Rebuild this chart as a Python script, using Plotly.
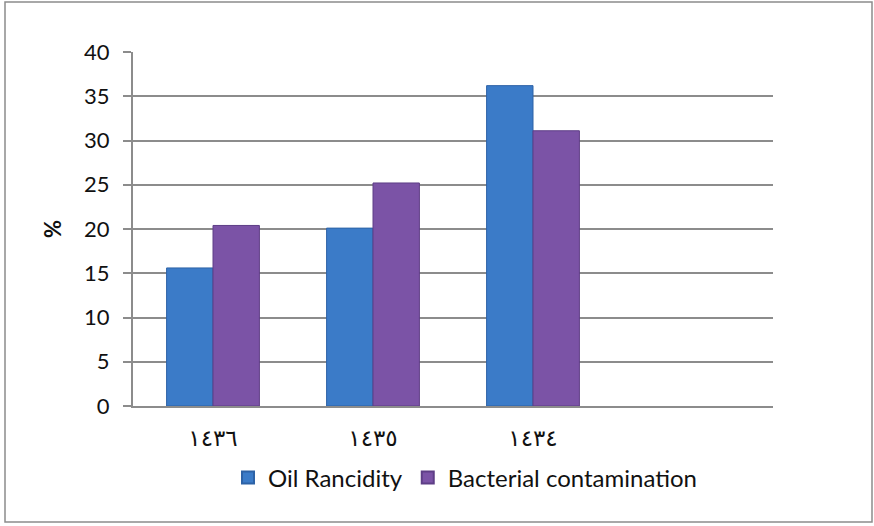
import plotly.graph_objects as go

# Hijri years on the category axis
years = ["١٤٣٦", "١٤٣٥", "١٤٣٤"]
oil_rancidity = [15.6, 20.1, 36.2]
bacterial_contamination = [20.4, 25.2, 31.1]
y_ticks = [0, 5, 10, 15, 20, 25, 30, 35, 40]

W, H = 874, 526
L, R, T, B = 133, 101, 52, 120
pw, ph = W - L - R, H - T - B

fig = go.Figure()
fig.add_trace(go.Bar(
    x=years, y=oil_rancidity, name="Oil Rancidity",
    marker=dict(color="#3b7bc8", line=dict(color="#2d62a6", width=1)),
))
fig.add_trace(go.Bar(
    x=years, y=bacterial_contamination, name="Bacterial contamination",
    marker=dict(color="#7b53a6", line=dict(color="#5e3e86", width=1)),
))

font_main = "Lato, 'Open Sans', sans-serif"

# Outer chart frame, in paper coordinates of the plot area
def px_x(p):
    return (p - L) / pw

def px_y(p):
    return (H - B - p) / ph

fig.add_shape(
    type="rect", xref="paper", yref="paper",
    x0=px_x(5), x1=px_x(872), y0=px_y(522), y1=px_y(2),
    line=dict(color="#8c8c8c", width=1.5), fillcolor="rgba(0,0,0,0)",
    layer="below",
)

fig.update_layout(
    width=W, height=H,
    margin=dict(l=L, r=R, t=T, b=B, pad=0),
    paper_bgcolor="white", plot_bgcolor="white",
    barmode="group", bargap=0.42, bargroupgap=0,
    showlegend=True,
    legend=dict(
        orientation="h", x=px_x(465), xanchor="center", y=px_y(478), yanchor="middle",
        font=dict(family=font_main, size=24, color="#111"),
        itemsizing="constant", itemwidth=30, traceorder="normal",
    ),
    xaxis=dict(
        type="category", range=[-0.5, 3.5],
        showline=True, linecolor="#8c8c8c", linewidth=2,
        showgrid=False, ticks="",
        tickfont=dict(family="'DejaVu Sans', 'Noto Sans', serif", size=23, color="#111"),
        ticklabelstandoff=10,
    ),
    yaxis=dict(
        range=[0, 40], tickvals=y_ticks,
        showline=True, linecolor="#8c8c8c", linewidth=2,
        showgrid=True, gridcolor="#8c8c8c", gridwidth=2,
        ticks="outside", ticklen=8, tickcolor="#8c8c8c", tickwidth=2,
        tickfont=dict(family=font_main, size=22, color="#111"),
        ticklabelstandoff=9,
        zeroline=False,
        title=dict(text="<b>%</b>", font=dict(family=font_main, size=22, color="#111"), standoff=16),
    ),
)

fig.write_html("out.html")
